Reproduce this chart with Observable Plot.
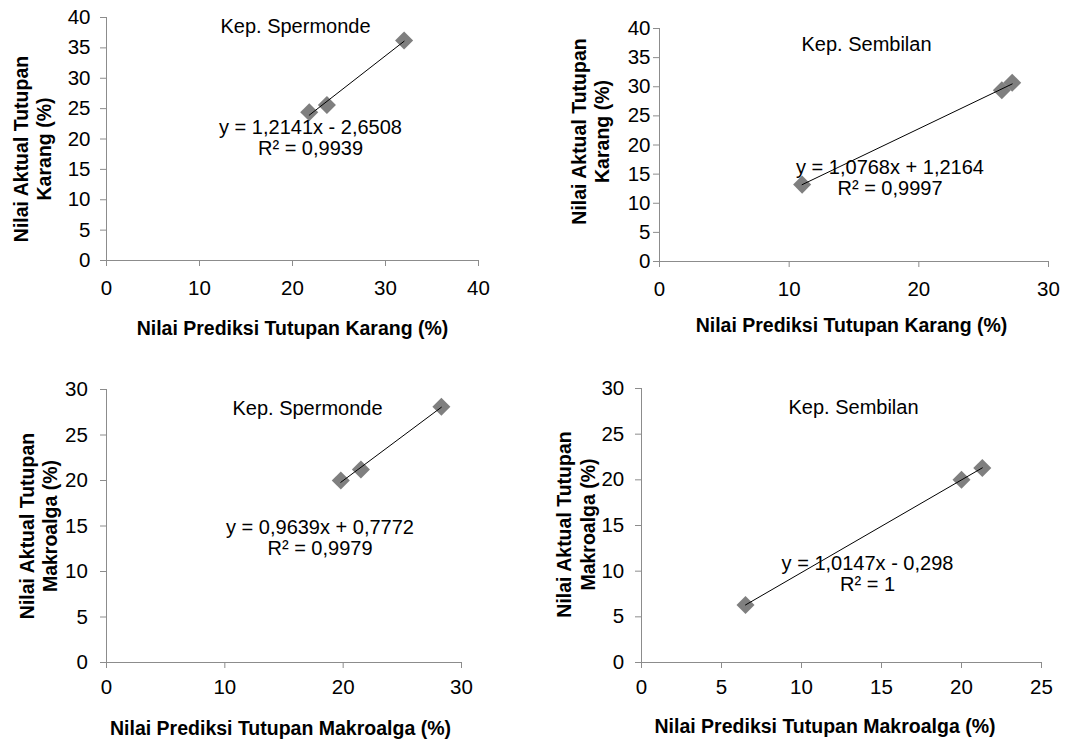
<!DOCTYPE html>
<html><head><meta charset="utf-8">
<script src="https://cdn.jsdelivr.net/npm/d3@7"></script>
<script src="https://cdn.jsdelivr.net/npm/@observablehq/plot@0.6"></script>
<style>
html,body{margin:0;padding:0;background:#fff;}
#wrap{position:relative;width:1084px;height:742px;overflow:hidden;background:#fff;}
.panel{position:absolute;}
</style></head><body><div id="wrap"></div>
<script>
// ---- data ----
const karangSpermondePred   = [21.8, 23.7, 32.0];
const karangSpermondeActual = [24.4, 25.6, 36.2];
const karangSembilanPred    = [11.0, 26.4, 27.2];
const karangSembilanActual  = [13.2, 29.4, 30.7];
const makroSpermondePred    = [19.8, 21.5, 28.3];
const makroSpermondeActual  = [20.0, 21.2, 28.1];
const makroSembilanPred     = [6.5, 20.0, 21.3];
const makroSembilanActual   = [6.3, 20.0, 21.3];

const siteTitles = ["Kep. Spermonde", "Kep. Sembilan", "Kep. Spermonde", "Kep. Sembilan"];
const equations  = ["y = 1,2141x - 2,6508", "y = 1,0768x + 1,2164", "y = 0,9639x + 0,7772", "y = 1,0147x - 0,298"];
const rSquared   = ["R² = 0,9939", "R² = 0,9997", "R² = 0,9979", "R² = 1"];
const xLabels    = ["Nilai Prediksi Tutupan Karang (%)", "Nilai Prediksi Tutupan Karang (%)",
                    "Nilai Prediksi Tutupan Makroalga (%)", "Nilai Prediksi Tutupan Makroalga (%)"];
const yLabels    = ["Nilai Aktual Tutupan\nKarang (%)", "Nilai Aktual Tutupan\nKarang (%)",
                    "Nilai Aktual Tutupan\nMakroalga (%)", "Nilai Aktual Tutupan\nMakroalga (%)"];
const xTicks = [[0, 10, 20, 30, 40], [0, 10, 20, 30], [0, 10, 20, 30], [0, 5, 10, 15, 20, 25]];
const yTicks = [[0, 5, 10, 15, 20, 25, 30, 35, 40], [0, 5, 10, 15, 20, 25, 30, 35, 40],
                [0, 5, 10, 15, 20, 25, 30], [0, 5, 10, 15, 20, 25, 30]];
const predSets   = [karangSpermondePred, karangSembilanPred, makroSpermondePred, makroSembilanPred];
const actualSets = [karangSpermondeActual, karangSembilanActual, makroSpermondeActual, makroSembilanActual];

// ---- layout (styles only) ----
const layout = [
  {left: 0,   top: 0,   w: 542, h: 350, ml: 106, mr: 64, mt: 17, mb: 90, xPad: 13.5, yPad: 10,
   title: [3, 9], eq: [18, -1], xl: [0, 68], yl: [-74.5, 10]},
  {left: 542, top: 0,   w: 542, h: 350, ml: 117, mr: 36, mt: 28, mb: 89, xPad: 13.5, yPad: 3,
   title: [12.5, 16], eq: [36, 32.5], xl: [-2.5, 64], yl: [-69.5, -13.5]},
  {left: 0,   top: 350, w: 542, h: 392, ml: 106, mr: 81, mt: 39, mb: 80, xPad: 11, yPad: 12.7,
   title: [23.5, 19], eq: [36, 11.5], xl: [-3.5, 66], yl: [-68.5, 0]},
  {left: 542, top: 350, w: 542, h: 392, ml: 99,  mr: 43, mt: 38, mb: 80, xPad: 11, yPad: 11.3,
   title: [12, 18.7], eq: [26, 48], xl: [-16.5, 64.7], yl: [-66, -1]}
];

const diamond = {
  draw(context, size) {
    const h = Math.sqrt(size / 2);
    context.moveTo(0, -h); context.lineTo(h, 0); context.lineTo(0, h); context.lineTo(-h, 0); context.closePath();
  }
};

const FONT = "'Liberation Sans', Arial, Helvetica, sans-serif";
const wrap = document.getElementById("wrap");

for (let i = 0; i < 4; i++) {
  const L = layout[i];
  const data = predSets[i].map((p, j) => ({pred: p, actual: actualSets[i][j]}));
  const xt = xTicks[i], yt = yTicks[i];
  const chart = Plot.plot({
    width: L.w, height: L.h,
    marginLeft: L.ml, marginRight: L.mr, marginTop: L.mt, marginBottom: L.mb,
    x: {domain: [xt[0], xt[xt.length - 1]]},
    y: {domain: [yt[0], yt[yt.length - 1]]},
    style: {fontFamily: FONT, fontSize: "20px", color: "#000", background: "#fff", overflow: "visible"},
    marks: [
      Plot.ruleY([yt[0]], {stroke: "#8c8c8c"}),
      Plot.ruleX([xt[0]], {stroke: "#8c8c8c"}),
      Plot.axisX({ticks: xt, tickSize: 6, tickPadding: L.xPad, stroke: "#8c8c8c", fill: "#000",
                  fontSize: 20.5, label: null, tickFormat: d => String(d)}),
      Plot.axisY({ticks: yt, tickSize: 6, tickPadding: L.yPad, stroke: "#8c8c8c", fill: "#000",
                  fontSize: 20.5, label: null, tickFormat: d => String(d)}),
      Plot.dot(data, {x: "pred", y: "actual", r: 7.2, symbol: diamond, fill: "#7f7f7f", stroke: "none"}),
      Plot.linearRegressionY(data, {x: "pred", y: "actual", ci: 0, stroke: "#000", strokeWidth: 1}),
      Plot.text([siteTitles[i]], {text: d => d, frameAnchor: "top", textAnchor: "middle", lineAnchor: "middle",
                  dx: L.title[0], dy: L.title[1], fontSize: 20, fill: "#000"}),
      Plot.text([equations[i] + "\n" + rSquared[i]], {text: d => d, frameAnchor: "middle", textAnchor: "middle",
                  lineAnchor: "middle", lineHeight: 1.05, dx: L.eq[0], dy: L.eq[1], fontSize: 20, fill: "#000"}),
      Plot.text([xLabels[i]], {text: d => d, frameAnchor: "bottom", textAnchor: "middle", lineAnchor: "middle",
                  dx: L.xl[0], dy: L.xl[1], fontSize: 19.5, fontWeight: "bold", fill: "#000"}),
      Plot.text([yLabels[i]], {text: d => d, frameAnchor: "left", textAnchor: "middle", lineAnchor: "middle",
                  rotate: -90, lineHeight: 1.2, dx: L.yl[0], dy: L.yl[1], fontSize: 19.5, fontWeight: "bold", fill: "#000"})
    ]
  });
  chart.classList.add("panel");
  chart.style.left = L.left + "px";
  chart.style.top = L.top + "px";
  wrap.appendChild(chart);
}
</script></body></html>
